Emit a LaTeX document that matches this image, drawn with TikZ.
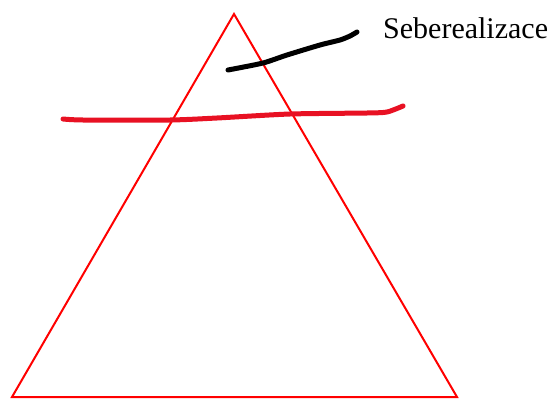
\documentclass[tikz,border=0pt]{standalone}
\usepackage{fontspec}
\setmainfont{Liberation Serif}
\definecolor{markred}{RGB}{232,17,35}
\begin{document}
\begin{tikzpicture}[x = 1pt, y = -1pt, every node/.style={inner sep = 0pt}]
\useasboundingbox (0,0) rectangle (548,399);
% pyramid
\draw[red, line width = 2pt, line join = miter] (234,14) -- (457,397) -- (12,397) -- cycle;
% red level line
\draw[markred, line width = 5pt, line cap = round, line join = round] plot[smooth, tension = 0.4] coordinates {(63,119) (83,120) (170,120) (217,118) (290,114) (367,113) (387,112) (403,106)};
% black top line
\draw[black, line width = 5pt, line cap = round, line join = round] plot[smooth, tension = 0.4] coordinates {(228,70) (263,63) (287,55) (320,45) (340,40) (350,36) (357,32)};
\node[anchor = base west, font = \fontsize{30}{36}\selectfont] (label) at (383,38) {Seberealizace};
\end{tikzpicture}
\end{document}
